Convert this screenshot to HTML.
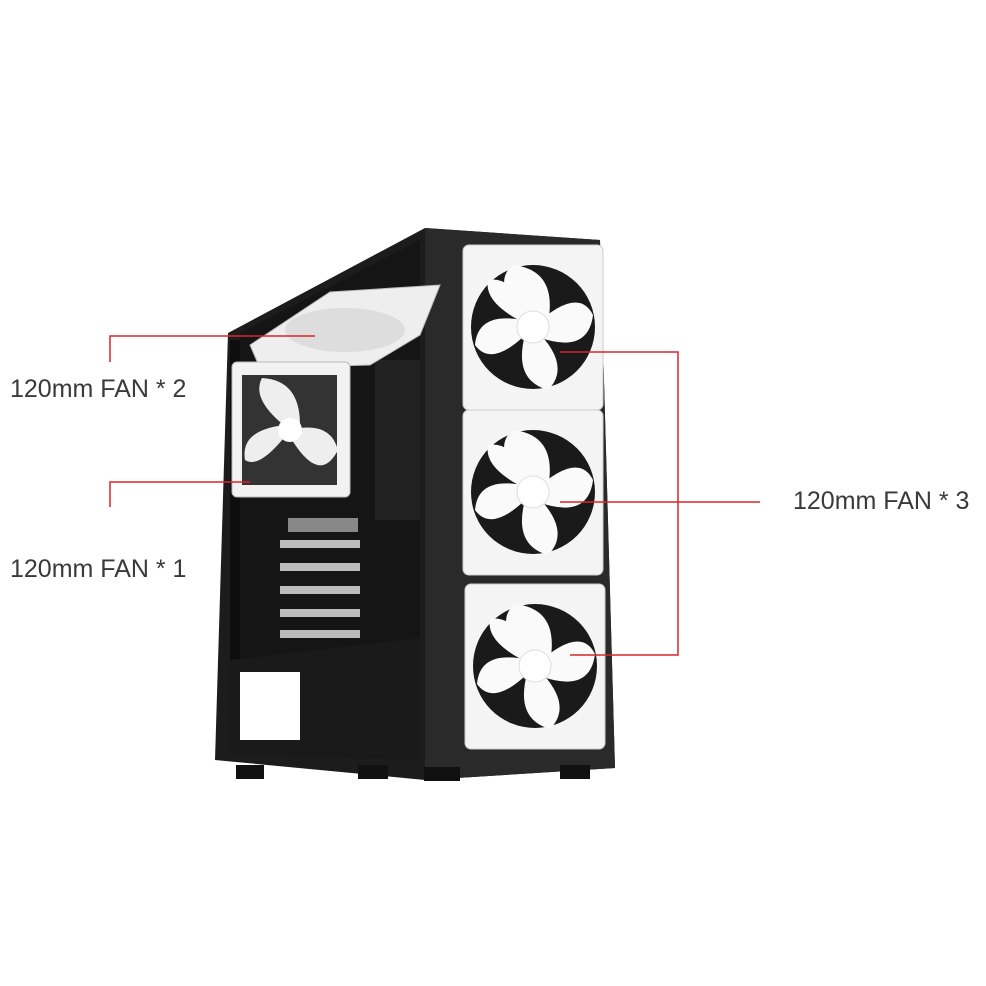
<!DOCTYPE html>
<html><head><meta charset="utf-8"><style>
html,body{margin:0;padding:0;background:#fff;}
svg{display:block}
text{font-family:"Liberation Sans",sans-serif;font-size:25px;fill:#3a3a3a}
</style></head><body>
<svg width="986" height="986" viewBox="0 0 986 986" xmlns="http://www.w3.org/2000/svg">
<defs>
<g id="fan">
<rect x="0" y="0" width="140" height="165" rx="6" fill="#f4f4f4" stroke="#ccc"/>
<circle cx="70" cy="82" r="62" fill="#1a1a1a"/>
<g fill="#fafafa">
<path d="M70 82 Q25 40 50 20 Q95 25 85 78Z"/>
<path d="M70 82 Q115 40 130 70 Q125 110 75 92Z"/>
<path d="M70 82 Q110 120 85 145 Q50 135 62 90Z"/>
<path d="M70 82 Q30 125 12 100 Q15 65 64 76Z"/>
<path d="M70 82 Q20 60 25 35 Q50 30 72 76Z"/>
</g>
<circle cx="70" cy="82" r="16" fill="#fff" stroke="#ddd"/>
</g>
</defs>
<polygon points="228,333 425,228 600,240 615,768 425,780 215,760" fill="#1c1c1c"/>
<polygon points="425,228 600,240 615,768 425,780" fill="#2a2a2a"/>
<rect x="230" y="340" width="190" height="415" fill="#0e0e0e"/>
<polygon points="240,333 420,240 420,640 240,660" fill="#151515"/>
<rect x="375" y="360" width="45" height="160" fill="#222"/>
<g fill="#bbb">
<rect x="280" y="540" width="80" height="8"/><rect x="280" y="563" width="80" height="8"/>
<rect x="280" y="586" width="80" height="8"/><rect x="280" y="609" width="80" height="8"/>
<rect x="280" y="630" width="80" height="8"/>
</g>
<rect x="288" y="518" width="70" height="14" fill="#888"/>
<polygon points="230,660 420,638 420,760 230,755" fill="#1a1a1a"/>
<rect x="240" y="672" width="60" height="68" fill="#fff"/>
<polygon points="250,345 330,292 440,285 420,335 370,365 260,368" fill="#eee" stroke="#bbb"/>
<ellipse cx="345" cy="330" rx="60" ry="22" fill="#ddd"/>
<rect x="232" y="362" width="118" height="135" rx="5" fill="#f2f2f2" stroke="#bbb"/>
<rect x="242" y="375" width="95" height="110" fill="#333"/>
<path d="M290 430 Q250 400 262 378 Q300 380 300 425Z M290 430 Q330 420 338 450 Q320 485 292 440Z M290 430 Q260 470 245 460 Q240 430 285 425Z" fill="#eee"/>
<circle cx="290" cy="430" r="12" fill="#fff"/>
<use href="#fan" x="463" y="245"/>
<use href="#fan" x="463" y="410"/>
<use href="#fan" x="465" y="584"/>
<g fill="#111">
<rect x="236" y="765" width="28" height="14"/><rect x="358" y="765" width="30" height="14"/>
<rect x="424" y="767" width="36" height="14"/><rect x="560" y="765" width="30" height="14"/>
</g>
<g stroke="#d6262c" stroke-width="1.5" fill="none">
<polyline points="110,362 110,336 315,336"/>
<polyline points="110,507 110,482 250,482"/>
<polyline points="560,352 678,352 678,655 570,655"/>
<line x1="560" y1="502" x2="760" y2="502"/>
</g>
<text x="10" y="397">120mm FAN * 2</text>
<text x="10" y="577">120mm FAN * 1</text>
<text x="793" y="509">120mm FAN * 3</text>
</svg>
</body></html>
